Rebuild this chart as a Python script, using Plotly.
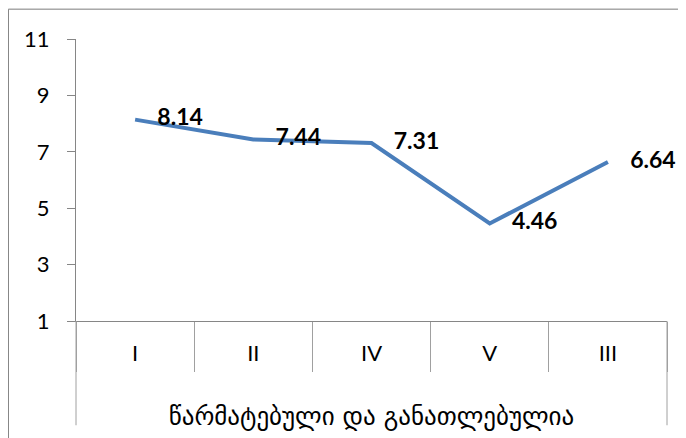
import plotly.graph_objects as go

categories = ["I", "II", "IV", "V", "III"]
values = [8.14, 7.44, 7.31, 4.46, 6.64]
value_labels = ["8.14", "7.44", "7.31", "4.46", "6.64"]
group_label = "წარმატებული და განათლებულია"
y_ticks = [1, 3, 5, 7, 9, 11]

FONT = "Lato, 'DejaVu Sans', sans-serif"
AXIS_GRAY = "#868686"

fig = go.Figure()
fig.add_trace(go.Scatter(
    x=categories, y=values, mode="lines+markers+text",
    line=dict(color="#4A7EBB", width=4),
    marker=dict(size=34, color="rgba(0,0,0,0)"),
    text=value_labels, textposition="middle right",
    textfont=dict(family=FONT, size=23, color="#000000", weight="bold"),
    cliponaxis=False,
    showlegend=False, hoverinfo="x+y",
))
# invisible helper trace carrying the category-boundary axis
fig.add_trace(go.Scatter(
    x=categories, y=[None] * len(categories), xaxis="x2",
    mode="lines", showlegend=False, hoverinfo="skip",
))

# page body has an 8px margin, figure coordinates are window - 8
W, H = 686, 430
L, T = 68, 31
pw, ph = 591, 284
R, B = W - L - pw, H - T - ph
xr = [-0.5, len(categories) - 0.5]

fig.update_layout(
    width=W, height=H,
    margin=dict(l=L, r=R, t=T, b=B, pad=0),
    paper_bgcolor="#F0F0F0", plot_bgcolor="white",
    font=dict(family=FONT, size=22, color="#000000"),
    xaxis=dict(
        type="category", categoryorder="array", categoryarray=categories,
        range=xr, autorange=False,
        showline=True, linecolor=AXIS_GRAY, linewidth=1,
        ticks="", showgrid=False, zeroline=False,
        tickfont=dict(size=22), ticklabelstandoff=13,
        title=dict(text=group_label, standoff=42,
                   font=dict(size=25, family="'DejaVu Sans', sans-serif")),
    ),
    xaxis2=dict(
        type="category", overlaying="x", matches="x", side="bottom", anchor="y",
        range=xr, autorange=False,
        showticklabels=False, ticks="outside", tickson="boundaries",
        ticklen=50, tickcolor="#A0A0A0", tickwidth=1,
        showline=False, showgrid=False, zeroline=False,
    ),
    yaxis=dict(
        range=[1, 11], tickvals=y_ticks, showgrid=False, zeroline=False,
        showline=True, linecolor=AXIS_GRAY, linewidth=1,
        ticks="outside", ticklen=8, tickcolor=AXIS_GRAY,
        tickfont=dict(size=22), ticklabelstandoff=13,
    ),
    shapes=[
        dict(type="rect", xref="paper", yref="paper", layer="below",
             x0=(0.5 - L) / pw, x1=(W + 10 - L) / pw,
             y0=(T + ph - (H + 10)) / ph, y1=(T + ph - 1) / ph,
             fillcolor="white", line=dict(color="#878787", width=1)),
        dict(type="line", xref="x domain", yref="y domain",
             x0=0, x1=0, y0=0, y1=-105 / ph, line=dict(color="#A0A0A0", width=1)),
        dict(type="line", xref="x domain", yref="y domain",
             x0=1, x1=1, y0=0, y1=-105 / ph, line=dict(color="#A0A0A0", width=1)),
    ],
)

fig.write_html("out.html")
